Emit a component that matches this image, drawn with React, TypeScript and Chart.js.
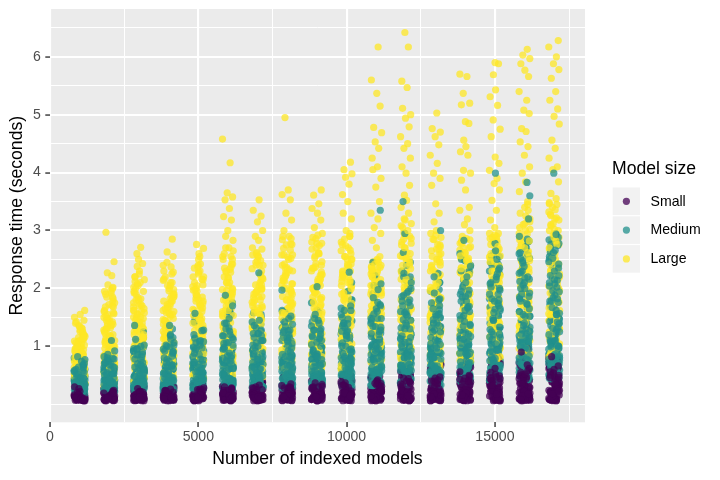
import { useEffect, useRef } from "react";
import { Chart, registerables } from "chart.js";

Chart.register(...registerables);

const SERIES = ["Small", "Medium", "Large"];
const COLORS = ["rgba(68,1,84,0.75)", "rgba(33,144,140,0.75)", "rgba(253,231,37,0.75)"];

const GROUP_X = [1000, 2000, 3000, 4000, 5000, 6000, 7000, 8000, 9000, 10000, 11000, 12000, 13000, 14000, 15000, 16000, 17000];

const X_TICKS = [0, 2500, 5000, 7500, 10000, 12500, 15000, 17500];
const X_LABELS = [0, 5000, 10000, 15000];
const Y_TICKS = [0, 0.5, 1, 1.5, 2, 2.5, 3, 3.5, 4, 4.5, 5, 5.5, 6, 6.5];
const Y_LABELS = [1, 2, 3, 4, 5, 6];

// horizontal jitter offsets (fraction of the jitter half-width)
const JITTER = [0.12, -0.85, 0.47, -0.31, 0.93, -0.66, 0.05, 0.71, -0.97, 0.38, -0.14, 0.82, -0.52, 0.26, -0.78, 0.61, -0.03, 0.89, -0.41, 0.17, -0.92, 0.54, -0.24, 0.76, -0.59, 0.33, -0.87, 0.09, 0.68, -0.46, 0.95, -0.19, 0.43, -0.73, 0.21, -0.6, 0.84, -0.08, 0.57, -0.95, 0.3, -0.36, 0.79, -0.69, 0.02, 0.64, -0.27];
const JITTER_WIDTH = 190;

const SMALL = [
  [0.07,0.12,0.09,0.18,0.06,0.14,0.22,0.1,0.16,0.08,0.27,0.13,0.11,0.19,0.07,0.24,0.15,0.09,0.2,0.12,0.3,0.17,0.1,0.13],
  [0.08,0.13,0.06,0.2,0.11,0.17,0.09,0.26,0.14,0.07,0.22,0.12,0.1,0.31,0.16,0.08,0.19,0.13,0.24,0.1,0.15,0.28,0.09,0.12],
  [0.07,0.15,0.1,0.23,0.08,0.18,0.12,0.3,0.09,0.2,0.14,0.06,0.27,0.11,0.17,0.34,0.13,0.08,0.21,0.16,0.1,0.25,0.12,0.19],
  [0.09,0.14,0.07,0.22,0.12,0.19,0.1,0.33,0.08,0.17,0.26,0.13,0.06,0.21,0.15,0.29,0.11,0.36,0.18,0.09,0.24,0.13,0.16,0.1],
  [0.08,0.16,0.11,0.25,0.07,0.2,0.13,0.35,0.09,0.18,0.28,0.12,0.22,0.06,0.15,0.31,0.1,0.39,0.19,0.14,0.26,0.09,0.12,0.17],
  [0.07,0.17,0.12,0.27,0.09,0.21,0.14,0.38,0.08,0.19,0.3,0.11,0.24,0.06,0.16,0.34,0.1,0.41,0.2,0.13,0.28,0.23,0.15,0.11],
  [0.08,0.18,0.11,0.29,0.07,0.22,0.15,0.4,0.1,0.2,0.33,0.13,0.25,0.06,0.17,0.36,0.09,0.43,0.21,0.14,0.3,0.26,0.12,0.16],
  [0.09,0.19,0.12,0.31,0.07,0.23,0.16,0.43,0.1,0.21,0.35,0.14,0.27,0.06,0.18,0.38,0.11,0.46,0.22,0.15,0.32,0.26,0.13,0.2,0.28],
  [0.08,0.2,0.13,0.33,0.07,0.24,0.16,0.44,0.1,0.22,0.37,0.14,0.28,0.06,0.18,0.4,0.11,0.47,0.23,0.15,0.3,0.27,0.12,0.19,0.34],
  [0.09,0.21,0.13,0.35,0.07,0.25,0.17,0.47,0.11,0.23,0.39,0.15,0.3,0.06,0.19,0.42,0.12,0.5,0.26,0.16,0.33,0.28,0.1,0.2,0.37],
  [0.08,0.22,0.14,0.38,0.07,0.27,0.18,0.52,0.1,0.24,0.42,0.15,0.32,0.06,0.2,0.46,0.12,0.47,0.28,0.17,0.36,0.3,0.11,0.21,0.4,0.25,0.13],
  [0.09,0.24,0.15,0.41,0.07,0.29,0.19,0.58,0.11,0.26,0.45,0.16,0.35,0.06,0.21,0.5,0.13,0.64,0.3,0.18,0.38,0.32,0.1,0.23,0.44,0.27,0.14,0.55],
  [0.08,0.25,0.16,0.43,0.07,0.3,0.2,0.6,0.11,0.27,0.47,0.17,0.36,0.06,0.22,0.52,0.13,0.68,0.31,0.19,0.4,0.34,0.1,0.24,0.45,0.28,0.15,0.57],
  [0.09,0.26,0.17,0.46,0.07,0.32,0.21,0.64,0.11,0.28,0.5,0.18,0.38,0.06,0.23,0.56,0.14,0.73,0.33,0.2,0.42,0.36,0.1,0.25,0.48,0.3,0.15,0.61,0.4],
  [0.08,0.28,0.18,0.5,0.07,0.35,0.23,0.7,0.12,0.3,0.55,0.19,0.41,0.06,0.25,0.62,0.14,0.85,0.36,0.21,0.46,0.39,0.1,0.27,0.52,0.32,0.16,0.67,0.44,0.77],
  [0.09,0.3,0.19,0.53,0.07,0.37,0.24,0.75,0.12,0.32,0.58,0.2,0.44,0.06,0.27,0.66,0.15,0.95,0.38,0.22,0.49,0.41,0.1,0.29,0.55,0.34,0.17,0.71,0.47,0.83,0.62],
  [0.08,0.29,0.19,0.51,0.07,0.36,0.24,0.72,0.12,0.31,0.56,0.2,0.43,0.06,0.26,0.64,0.15,0.8,0.37,0.22,0.48,0.4,0.1,0.28,0.54,0.33,0.17,0.69,0.46,0.76,0.6],
];

const SMALL_MORE = [
  [0.06,0.11,0.08,0.15,0.1,0.21,0.07,0.13,0.17,0.09,0.12,0.25,0.08,0.14,0.11,0.19],
  [0.07,0.1,0.14,0.09,0.18,0.06,0.12,0.23,0.11,0.16,0.08,0.27,0.13,0.1,0.2,0.15],
  [0.06,0.11,0.16,0.09,0.2,0.13,0.07,0.25,0.12,0.18,0.1,0.29,0.14,0.08,0.22,0.15],
  [0.07,0.12,0.17,0.1,0.21,0.08,0.14,0.27,0.11,0.19,0.09,0.31,0.15,0.13,0.23,0.16],
  [0.06,0.13,0.18,0.1,0.23,0.08,0.15,0.29,0.12,0.2,0.09,0.34,0.16,0.11,0.25,0.14],
  [0.07,0.13,0.19,0.1,0.24,0.09,0.16,0.31,0.12,0.21,0.08,0.36,0.17,0.11,0.27,0.14],
  [0.06,0.14,0.2,0.1,0.25,0.08,0.16,0.33,0.12,0.22,0.09,0.38,0.18,0.11,0.28,0.15],
  [0.07,0.14,0.21,0.1,0.27,0.09,0.17,0.35,0.12,0.24,0.08,0.41,0.19,0.11,0.3,0.16],
  [0.06,0.15,0.22,0.1,0.28,0.08,0.17,0.36,0.13,0.25,0.09,0.42,0.19,0.11,0.31,0.16],
  [0.07,0.15,0.23,0.11,0.29,0.09,0.18,0.38,0.13,0.26,0.08,0.45,0.2,0.12,0.33,0.17],
  [0.06,0.16,0.24,0.11,0.31,0.08,0.19,0.4,0.13,0.27,0.09,0.44,0.21,0.12,0.35,0.18,0.1,0.29],
  [0.07,0.17,0.26,0.11,0.34,0.09,0.2,0.44,0.14,0.3,0.08,0.52,0.23,0.12,0.39,0.19,0.1,0.33],
  [0.06,0.17,0.27,0.11,0.35,0.08,0.21,0.46,0.14,0.31,0.09,0.55,0.24,0.12,0.4,0.19,0.1,0.62],
  [0.07,0.18,0.29,0.12,0.38,0.09,0.22,0.5,0.15,0.33,0.08,0.6,0.26,0.13,0.43,0.2,0.1,0.66,0.35],
  [0.06,0.19,0.31,0.12,0.41,0.08,0.24,0.55,0.15,0.36,0.09,0.66,0.28,0.13,0.47,0.21,0.1,0.74,0.38,0.58],
  [0.07,0.2,0.33,0.12,0.44,0.09,0.25,0.6,0.16,0.39,0.08,0.72,0.3,0.13,0.51,0.22,0.1,0.8,0.41,0.65,0.9],
  [0.06,0.2,0.32,0.12,0.43,0.08,0.25,0.58,0.16,0.38,0.09,0.68,0.3,0.13,0.5,0.22,0.1,0.74,0.4,0.62,0.82],
];

const SMALL_EXTRA = [
  [0.08,0.1,0.13,0.07,0.16,0.09,0.11,0.2,0.06,0.14,0.12,0.18,0.08,0.23,0.1,0.15,0.07,0.12,0.09,0.17],
  [0.07,0.11,0.15,0.08,0.19,0.1,0.13,0.24,0.06,0.17,0.12,0.21,0.09,0.27,0.1,0.14,0.08,0.18,0.11,0.16],
  [0.08,0.12,0.17,0.07,0.22,0.1,0.14,0.28,0.06,0.19,0.13,0.24,0.09,0.31,0.11,0.16,0.08,0.2,0.12,0.15],
  [0.07,0.12,0.18,0.08,0.23,0.1,0.15,0.3,0.06,0.2,0.13,0.26,0.09,0.33,0.11,0.17,0.08,0.21,0.12,0.14],
  [0.08,0.13,0.19,0.07,0.25,0.1,0.16,0.32,0.06,0.21,0.14,0.28,0.09,0.36,0.11,0.18,0.08,0.23,0.12,0.15],
  [0.07,0.13,0.2,0.08,0.26,0.1,0.16,0.34,0.06,0.22,0.14,0.3,0.09,0.38,0.11,0.18,0.08,0.24,0.12,0.15],
  [0.08,0.14,0.21,0.07,0.27,0.1,0.17,0.36,0.06,0.23,0.15,0.31,0.09,0.4,0.11,0.19,0.08,0.25,0.13,0.16],
  [0.07,0.14,0.22,0.08,0.29,0.1,0.18,0.38,0.06,0.25,0.15,0.33,0.09,0.43,0.12,0.2,0.08,0.27,0.13,0.16],
  [0.08,0.15,0.23,0.07,0.3,0.1,0.18,0.39,0.06,0.26,0.16,0.34,0.09,0.44,0.12,0.2,0.08,0.28,0.13,0.17],
  [0.07,0.15,0.24,0.08,0.32,0.1,0.19,0.41,0.06,0.27,0.16,0.36,0.09,0.47,0.12,0.21,0.08,0.29,0.14,0.17],
  [0.08,0.16,0.25,0.07,0.33,0.1,0.2,0.43,0.06,0.28,0.17,0.38,0.09,0.48,0.12,0.22,0.08,0.3,0.14,0.18,0.36,0.26],
  [0.07,0.17,0.27,0.08,0.36,0.1,0.21,0.47,0.06,0.31,0.18,0.41,0.09,0.56,0.13,0.24,0.08,0.33,0.15,0.19,0.4,0.29],
  [0.08,0.17,0.28,0.07,0.37,0.1,0.22,0.49,0.06,0.32,0.18,0.43,0.09,0.58,0.13,0.25,0.08,0.34,0.15,0.2,0.42,0.3],
  [0.07,0.18,0.3,0.08,0.4,0.1,0.23,0.53,0.06,0.34,0.19,0.46,0.09,0.64,0.13,0.26,0.08,0.36,0.16,0.21,0.45,0.31,0.56],
  [0.08,0.2,0.33,0.07,0.44,0.1,0.25,0.58,0.06,0.37,0.21,0.5,0.09,0.7,0.14,0.28,0.08,0.4,0.17,0.23,0.49,0.34,0.62,0.78],
  [0.07,0.21,0.35,0.08,0.47,0.1,0.27,0.63,0.06,0.4,0.22,0.54,0.09,0.76,0.14,0.3,0.08,0.43,0.18,0.24,0.52,0.36,0.68,0.86],
  [0.08,0.21,0.34,0.07,0.46,0.1,0.26,0.61,0.06,0.39,0.22,0.53,0.09,0.72,0.14,0.29,0.08,0.42,0.18,0.24,0.5,0.35,0.66,0.8],
];

const MEDIUM = [
  [0.18,0.32,0.25,0.45,0.22,0.38,0.55,0.28,0.2,0.42,0.34,0.62,0.26,0.48,0.3,0.72,0.24,0.36,0.52,0.19,0.4,0.29,0.58,0.33,0.82,0.23,0.44,0.27,0.66,0.35,0.21,0.5,0.31,0.39,0.77,0.25,0.46,0.3,0.56,0.37],
  [0.2,0.36,0.28,0.52,0.24,0.44,0.65,0.31,0.22,0.48,0.39,0.72,0.27,0.57,0.34,0.82,0.25,0.41,0.6,0.21,0.46,0.33,0.68,0.38,0.86,0.26,0.5,0.3,0.76,0.42,0.23,0.55,0.35,0.63,1.1,0.29,0.53,0.37,0.7,0.45,0.79,0.32],
  [0.22,0.4,0.3,0.6,0.26,0.5,0.78,0.34,0.24,0.56,0.44,0.88,0.29,0.66,0.38,0.98,0.27,0.47,0.72,0.23,0.53,0.36,0.82,0.42,1.02,0.28,0.58,0.32,0.92,0.48,0.25,0.64,0.39,0.75,1.36,0.31,0.62,0.43,0.85,0.52,0.96,0.35,0.7,1.15],
  [0.23,0.42,0.31,0.64,0.27,0.52,0.83,0.35,0.25,0.58,0.46,0.94,0.3,0.7,0.4,1.05,0.28,0.49,0.77,0.24,0.55,0.37,0.88,0.44,1.12,0.29,0.61,0.33,0.99,0.5,0.26,0.67,0.41,0.8,1.36,0.32,0.65,0.45,0.91,0.54,1.2,0.36,0.74,1.3,1.02],
  [0.24,0.44,0.32,0.68,0.28,0.55,0.88,0.36,0.26,0.61,0.48,1.0,0.31,0.74,0.42,1.12,0.29,0.51,0.82,0.25,0.58,0.39,0.94,0.46,1.2,0.3,0.64,0.34,1.06,0.53,0.27,0.71,0.43,0.85,1.57,0.33,0.69,0.47,0.97,0.57,1.28,0.37,0.78,1.42,1.08,1.5],
  [0.25,0.47,0.34,0.72,0.29,0.58,0.95,0.38,0.27,0.65,0.51,1.08,0.32,0.8,0.44,1.22,0.3,0.54,0.88,0.26,0.62,0.41,1.02,0.49,1.32,0.31,0.69,0.36,1.15,0.56,0.28,0.76,0.45,0.92,1.88,0.35,0.74,0.5,1.05,0.6,1.4,0.39,0.84,1.55,1.18,1.62,1.3,1.75,0.98],
  [0.27,0.5,0.36,0.76,0.31,0.61,1.0,0.4,0.29,0.68,0.54,1.12,0.34,0.84,0.46,1.26,0.32,0.57,0.92,0.28,0.65,0.43,1.06,0.52,1.36,0.33,0.72,0.38,1.18,0.59,0.3,0.8,0.47,0.96,2.27,0.37,0.78,0.53,1.1,0.63,1.45,0.41,0.88,1.58,1.22,1.5,1.32,0.7,1.02],
  [0.28,0.52,0.37,0.8,0.32,0.64,1.05,0.42,0.3,0.71,0.56,1.17,0.35,0.88,0.48,1.32,0.33,0.6,0.97,0.29,0.68,0.45,1.1,0.54,1.42,0.34,0.75,0.4,1.24,0.62,0.31,0.84,0.49,1.0,1.97,0.38,0.82,0.55,1.15,0.66,1.52,0.43,0.92,1.6,1.28,1.58,1.38,0.73,1.08,1.48],
  [0.28,0.53,0.38,0.82,0.33,0.66,1.07,0.43,0.3,0.73,0.57,1.2,0.36,0.9,0.49,1.35,0.34,0.61,1.0,0.29,0.7,0.46,1.13,0.55,1.45,0.35,0.77,0.41,1.27,0.63,0.31,0.86,0.5,1.02,2.03,0.39,0.84,0.56,1.18,0.67,1.55,0.44,0.94,1.62,1.3,1.75,1.4,0.74,1.1,1.5],
  [0.31,0.57,0.41,0.88,0.35,0.71,1.15,0.46,0.33,0.78,0.61,1.28,0.38,0.96,0.52,1.44,0.36,0.65,1.06,0.32,0.75,0.49,1.2,0.59,1.55,0.37,0.82,0.44,1.36,0.68,0.34,0.92,0.54,1.1,2.28,0.42,0.9,0.6,1.25,0.72,1.66,0.47,1.0,1.8,1.4,1.95,1.5,0.8,1.18,2.1,1.62],
  [0.32,0.6,0.43,0.93,0.37,0.75,1.22,0.48,0.34,0.83,0.64,1.36,0.4,1.02,0.55,1.53,0.38,0.69,1.12,0.33,0.79,0.52,1.28,0.62,1.65,0.39,0.87,0.46,1.45,0.72,0.35,0.98,0.57,1.17,3.35,0.44,0.95,0.63,1.33,0.77,1.76,0.5,1.06,1.9,1.48,2.05,1.6,0.85,1.25,2.22,1.7,2.45,1.98],
  [0.33,0.63,0.45,0.98,0.38,0.79,1.3,0.5,0.35,0.87,0.67,1.45,0.42,1.08,0.58,1.62,0.4,0.72,1.18,0.34,0.83,0.55,1.36,0.65,1.76,0.41,0.92,0.48,1.55,0.76,0.36,1.04,0.6,1.24,3.5,0.46,1.0,0.66,1.4,0.81,1.88,0.52,1.12,2.02,1.58,2.2,1.7,0.9,1.32,2.4,1.8,2.62,2.1,2.95,1.95,2.3],
  [0.33,0.62,0.44,0.95,0.38,0.77,1.25,0.49,0.35,0.85,0.66,1.4,0.41,1.05,0.57,1.57,0.39,0.71,1.15,0.34,0.81,0.54,1.32,0.64,1.7,0.4,0.9,0.47,1.5,0.74,0.36,1.01,0.59,1.2,3.0,0.45,0.97,0.65,1.36,0.79,1.82,0.51,1.09,1.95,1.52,2.1,1.65,0.88,1.28,2.26,1.75,1.9],
  [0.36,0.67,0.48,1.03,0.41,0.83,1.35,0.53,0.38,0.92,0.71,1.52,0.45,1.13,0.62,1.7,0.43,0.77,1.24,0.37,0.88,0.59,1.43,0.69,1.85,0.44,0.97,0.51,1.62,0.8,0.39,1.09,0.64,1.3,2.83,0.49,1.05,0.7,1.47,0.85,1.97,0.55,1.17,2.12,1.66,2.3,1.78,0.95,1.38,2.48,1.9,2.6,2.2,2.05],
  [0.4,0.72,0.52,1.1,0.45,0.89,1.45,0.57,0.42,0.98,0.76,1.62,0.49,1.2,0.66,1.82,0.47,0.82,1.33,0.41,0.94,0.63,1.53,0.74,1.97,0.48,1.04,0.55,1.74,0.86,0.43,1.16,0.68,1.4,3.99,0.53,1.12,0.75,1.58,0.91,2.1,0.59,1.25,2.25,1.78,2.42,1.9,1.02,1.48,2.55,2.02,2.78,2.32,2.15,2.65,1.68],
  [0.42,0.75,0.54,1.15,0.47,0.93,1.52,0.6,0.44,1.03,0.8,1.7,0.51,1.26,0.69,1.9,0.49,0.86,1.4,0.43,0.98,0.66,1.6,0.77,2.06,0.5,1.09,0.58,1.82,0.9,0.45,1.22,0.71,1.46,3.83,0.56,1.18,0.79,1.65,0.95,2.2,0.62,1.3,2.36,1.86,2.52,2.0,1.07,1.55,2.68,2.12,2.85,2.44,3.6,2.28,1.76,3.2,2.6],
  [0.43,0.76,0.55,1.17,0.48,0.95,1.55,0.61,0.45,1.05,0.81,1.72,0.52,1.28,0.7,1.92,0.5,0.87,1.42,0.44,1.0,0.67,1.62,0.78,2.08,0.51,1.1,0.59,1.84,0.92,0.46,1.24,0.72,1.48,3.99,0.57,1.2,0.8,1.67,0.97,2.22,0.63,1.32,2.38,1.88,2.55,2.02,1.08,1.57,2.7,2.15,2.88,2.46,2.3,2.62,2.78,1.78,2.94],
];

const MEDIUM_MORE = [
  [0.19,0.27,0.35,0.23,0.43,0.3,0.52,0.21,0.38,0.25,0.47,0.33,0.6,0.22,0.29,0.41,0.36,0.54,0.24,0.31,0.45,0.2,0.68,0.34,0.28,0.5,0.26,0.39,0.57,0.32,0.44,0.23,0.74,0.37,0.3,0.49,0.27,0.42,0.64,0.35],
  [0.2,0.3,0.41,0.25,0.52,0.35,0.63,0.22,0.45,0.28,0.57,0.38,0.74,0.24,0.33,0.49,0.42,0.66,0.27,0.36,0.54,0.21,0.82,0.4,0.31,0.6,0.29,0.47,0.7,0.37,0.53,0.26,0.92,0.44,0.34,0.59,0.3,0.5,0.78,0.43],
  [0.22,0.34,0.48,0.28,0.62,0.4,0.76,0.24,0.53,0.31,0.68,0.44,0.9,0.26,0.37,0.58,0.5,0.8,0.3,0.42,0.65,0.23,1.0,0.47,0.35,0.72,0.32,0.55,0.86,0.43,0.64,0.29,1.12,0.52,0.39,0.7,0.33,0.6,0.95,1.25],
  [0.23,0.35,0.5,0.29,0.65,0.42,0.8,0.25,0.56,0.32,0.71,0.46,0.95,0.27,0.38,0.61,0.52,0.85,0.31,0.44,0.68,0.24,1.06,0.49,0.36,0.76,0.33,0.58,0.9,0.45,0.67,0.3,1.18,0.54,0.4,0.74,0.34,0.63,1.0,1.32],
  [0.24,0.37,0.53,0.3,0.69,0.44,0.86,0.26,0.6,0.34,0.76,0.49,1.02,0.28,0.4,0.65,0.56,0.92,0.32,0.46,0.73,0.25,1.14,0.52,0.38,0.82,0.35,0.62,0.97,0.48,0.72,0.31,1.27,0.58,0.42,0.8,0.36,0.67,1.08,1.42],
  [0.25,0.4,0.58,0.32,0.76,0.48,0.95,0.28,0.66,0.36,0.84,0.53,1.12,0.3,0.43,0.71,0.61,1.02,0.34,0.5,0.8,0.27,1.26,0.57,0.41,0.9,0.38,0.68,1.07,0.52,0.79,0.33,1.4,0.63,0.46,0.88,0.39,0.74,1.2,1.55,1.7,1.33],
  [0.27,0.42,0.6,0.34,0.78,0.5,0.98,0.3,0.68,0.38,0.87,0.55,1.15,0.32,0.45,0.73,0.63,1.05,0.36,0.52,0.82,0.29,1.28,0.59,0.43,0.93,0.4,0.7,1.1,0.54,0.81,0.35,1.42,0.65,0.48,0.9,0.41,0.76,1.22,1.55],
  [0.28,0.44,0.63,0.35,0.82,0.52,1.02,0.31,0.71,0.4,0.9,0.57,1.2,0.33,0.47,0.76,0.66,1.1,0.37,0.54,0.86,0.3,1.34,0.61,0.45,0.97,0.42,0.73,1.15,0.56,0.85,0.36,1.48,0.68,0.5,0.94,0.43,0.79,1.27,1.62],
  [0.29,0.45,0.64,0.36,0.83,0.53,1.03,0.32,0.72,0.41,0.92,0.58,1.21,0.34,0.48,0.77,0.67,1.11,0.38,0.55,0.87,0.3,1.35,0.62,0.46,0.98,0.43,0.74,1.16,0.57,0.86,0.37,1.48,0.69,0.51,0.95,0.44,0.8,1.28,1.58],
  [0.31,0.49,0.7,0.39,0.91,0.58,1.13,0.34,0.79,0.44,1.0,0.63,1.32,0.37,0.52,0.84,0.73,1.21,0.41,0.6,0.95,0.33,1.47,0.68,0.5,1.07,0.47,0.81,1.27,0.62,0.94,0.4,1.62,0.75,0.55,1.04,0.48,0.88,1.4,1.8],
  [0.32,0.51,0.74,0.41,0.96,0.61,1.2,0.36,0.83,0.46,1.06,0.67,1.4,0.39,0.55,0.89,0.77,1.28,0.43,0.63,1.0,0.35,1.56,0.72,0.52,1.13,0.49,0.86,1.34,0.65,0.99,0.42,1.72,0.79,0.58,1.1,0.5,0.93,1.48,1.9,2.08,1.64],
  [0.34,0.55,0.8,0.44,1.04,0.66,1.3,0.38,0.9,0.5,1.15,0.72,1.52,0.41,0.59,0.96,0.83,1.39,0.46,0.68,1.08,0.37,1.7,0.78,0.56,1.22,0.53,0.93,1.46,0.7,1.07,0.45,1.86,0.85,0.62,1.19,0.54,1.0,1.6,2.05,2.26,2.45,1.78,2.15],
  [0.33,0.53,0.77,0.43,1.0,0.64,1.25,0.37,0.87,0.48,1.11,0.7,1.46,0.4,0.57,0.93,0.8,1.34,0.45,0.66,1.04,0.36,1.63,0.75,0.54,1.18,0.51,0.9,1.4,0.68,1.03,0.44,1.8,0.82,0.6,1.15,0.52,0.97,1.55,1.98,2.2,1.72],
  [0.37,0.58,0.84,0.46,1.09,0.69,1.36,0.4,0.95,0.52,1.21,0.76,1.6,0.43,0.62,1.01,0.87,1.46,0.48,0.72,1.13,0.39,1.78,0.82,0.59,1.28,0.56,0.98,1.53,0.74,1.12,0.47,1.95,0.89,0.65,1.25,0.57,1.05,1.68,2.15,2.38,2.5,1.86,2.25],
  [0.41,0.63,0.9,0.5,1.16,0.74,1.45,0.44,1.02,0.56,1.29,0.81,1.7,0.47,0.67,1.08,0.93,1.56,0.52,0.77,1.21,0.43,1.9,0.88,0.64,1.37,0.6,1.05,1.64,0.79,1.2,0.51,2.08,0.95,0.7,1.33,0.62,1.12,1.8,2.3,2.5,2.62,2.0,2.4,2.2],
  [0.43,0.66,0.95,0.53,1.22,0.78,1.52,0.46,1.07,0.59,1.36,0.85,1.78,0.5,0.7,1.14,0.98,1.64,0.55,0.81,1.28,0.45,2.0,0.92,0.67,1.44,0.63,1.1,1.72,0.83,1.26,0.54,2.18,1.0,0.73,1.4,0.65,1.18,1.9,2.4,2.62,2.8,2.1,2.52,2.3,2.72,2.9],
  [0.45,0.68,0.97,0.55,1.25,0.8,1.55,0.48,1.1,0.61,1.39,0.87,1.82,0.51,0.72,1.17,1.0,1.68,0.57,0.83,1.31,0.46,2.04,0.94,0.69,1.47,0.65,1.13,1.76,0.85,1.29,0.56,2.22,1.02,0.75,1.43,0.67,1.2,1.94,2.45,2.66,2.84,2.14,2.56,2.35,2.76,2.93,2.5],
];

const MEDIUM_EXTRA = [
  [0.21,0.26,0.33,0.4,0.24,0.48,0.3,0.56,0.22,0.36,0.28,0.44,0.63,0.25,0.34,0.51,0.2,0.39,0.31,0.46,0.7,0.27,0.37,0.58,0.23,0.42,0.29,0.53,0.32,0.66,0.26,0.41,0.35,0.49,0.24,0.6,0.38,0.3,0.45,0.8],
  [0.22,0.29,0.37,0.46,0.26,0.55,0.33,0.64,0.24,0.41,0.31,0.5,0.72,0.27,0.38,0.58,0.21,0.44,0.35,0.53,0.8,0.3,0.42,0.67,0.25,0.48,0.32,0.61,0.36,0.76,0.28,0.47,0.39,0.56,0.26,0.69,0.43,0.34,0.52,0.95],
  [0.24,0.32,0.42,0.53,0.28,0.64,0.37,0.76,0.26,0.47,0.35,0.58,0.86,0.3,0.43,0.68,0.23,0.51,0.4,0.62,0.96,0.33,0.48,0.8,0.27,0.56,0.36,0.72,0.41,0.92,0.31,0.55,0.45,0.66,0.29,0.84,0.5,0.38,0.6,1.08],
  [0.25,0.33,0.44,0.56,0.29,0.68,0.39,0.81,0.27,0.5,0.37,0.62,0.92,0.31,0.45,0.72,0.24,0.54,0.42,0.66,1.02,0.34,0.51,0.85,0.28,0.59,0.38,0.77,0.43,0.98,0.32,0.58,0.47,0.7,0.3,0.89,0.53,0.4,0.64,1.15],
  [0.26,0.35,0.47,0.6,0.3,0.73,0.41,0.87,0.28,0.53,0.39,0.66,0.98,0.32,0.48,0.77,0.25,0.58,0.44,0.71,1.1,0.36,0.55,0.91,0.29,0.63,0.4,0.83,0.46,1.05,0.33,0.62,0.5,0.75,0.31,0.95,0.57,0.42,0.69,1.25],
  [0.27,0.37,0.5,0.65,0.31,0.79,0.43,0.94,0.29,0.57,0.41,0.71,1.06,0.34,0.51,0.83,0.26,0.62,0.47,0.77,1.18,0.38,0.59,0.98,0.3,0.68,0.42,0.9,0.49,1.13,0.35,0.66,0.53,0.81,0.32,1.03,0.61,0.45,0.74,1.35,1.48,1.25],
  [0.28,0.39,0.52,0.67,0.32,0.82,0.45,0.97,0.3,0.59,0.42,0.74,1.1,0.35,0.53,0.86,0.27,0.64,0.49,0.8,1.22,0.4,0.61,1.02,0.31,0.7,0.44,0.93,0.5,1.16,0.36,0.69,0.55,0.84,0.33,1.06,0.63,0.47,0.77,1.38],
  [0.29,0.4,0.54,0.7,0.33,0.86,0.47,1.01,0.31,0.62,0.44,0.77,1.15,0.36,0.55,0.9,0.28,0.67,0.51,0.83,1.27,0.41,0.64,1.06,0.32,0.73,0.46,0.97,0.52,1.21,0.37,0.72,0.57,0.88,0.34,1.1,0.66,0.49,0.8,1.44],
  [0.3,0.41,0.55,0.71,0.34,0.87,0.48,1.02,0.32,0.63,0.45,0.78,1.16,0.37,0.56,0.91,0.29,0.68,0.52,0.84,1.28,0.42,0.65,1.07,0.33,0.74,0.47,0.98,0.53,1.22,0.38,0.73,0.58,0.89,0.35,1.11,0.67,0.5,0.81,1.42],
  [0.32,0.44,0.6,0.77,0.36,0.94,0.52,1.1,0.34,0.68,0.49,0.85,1.26,0.4,0.61,0.99,0.31,0.74,0.56,0.91,1.39,0.45,0.7,1.16,0.35,0.8,0.51,1.06,0.57,1.33,0.41,0.79,0.63,0.97,0.37,1.2,0.72,0.54,0.88,1.56,1.7],
  [0.33,0.46,0.63,0.81,0.37,0.99,0.54,1.17,0.35,0.72,0.51,0.9,1.34,0.41,0.64,1.05,0.32,0.78,0.59,0.96,1.48,0.47,0.74,1.23,0.36,0.85,0.53,1.12,0.6,1.42,0.43,0.84,0.66,1.03,0.39,1.28,0.76,0.56,0.93,1.66,1.84,1.58],
  [0.35,0.49,0.68,0.88,0.4,1.07,0.58,1.27,0.37,0.78,0.55,0.97,1.45,0.44,0.69,1.14,0.34,0.84,0.63,1.04,1.6,0.5,0.8,1.33,0.39,0.92,0.57,1.21,0.65,1.54,0.46,0.9,0.71,1.11,0.42,1.38,0.82,0.6,1.0,1.8,2.0,2.2,1.92],
  [0.34,0.48,0.66,0.85,0.39,1.04,0.56,1.23,0.36,0.76,0.53,0.94,1.4,0.43,0.67,1.1,0.33,0.82,0.61,1.0,1.55,0.49,0.78,1.29,0.38,0.89,0.55,1.17,0.63,1.49,0.45,0.88,0.69,1.08,0.41,1.34,0.8,0.58,0.97,1.74,1.92,2.1],
  [0.38,0.52,0.72,0.93,0.42,1.13,0.61,1.34,0.4,0.83,0.58,1.03,1.53,0.47,0.73,1.2,0.37,0.89,0.67,1.1,1.69,0.53,0.85,1.41,0.41,0.98,0.6,1.28,0.69,1.63,0.49,0.96,0.75,1.18,0.44,1.46,0.87,0.64,1.06,1.9,2.1,2.3,2.02,2.4],
  [0.42,0.57,0.78,1.0,0.46,1.22,0.66,1.45,0.44,0.9,0.63,1.12,1.65,0.51,0.79,1.3,0.41,0.97,0.72,1.19,1.82,0.58,0.92,1.52,0.45,1.06,0.65,1.38,0.75,1.76,0.53,1.04,0.81,1.27,0.48,1.58,0.94,0.69,1.15,2.05,2.25,2.45,2.15,2.56,2.35],
  [0.44,0.6,0.82,1.06,0.48,1.28,0.69,1.52,0.46,0.94,0.66,1.18,1.74,0.53,0.83,1.37,0.43,1.02,0.76,1.25,1.92,0.61,0.97,1.6,0.47,1.11,0.68,1.45,0.78,1.85,0.56,1.09,0.85,1.33,0.5,1.66,0.99,0.72,1.21,2.16,2.38,2.58,2.26,2.7,2.48,2.82],
  [0.46,0.62,0.84,1.08,0.5,1.31,0.71,1.55,0.48,0.96,0.68,1.2,1.78,0.55,0.85,1.4,0.45,1.04,0.78,1.28,1.96,0.63,0.99,1.63,0.49,1.13,0.7,1.48,0.8,1.89,0.58,1.11,0.87,1.36,0.52,1.7,1.01,0.74,1.24,2.2,2.42,2.62,2.3,2.74,2.52,2.86,2.1],
];

const LARGE = [
  [0.28,0.45,0.62,0.38,0.85,0.52,1.05,0.33,0.72,0.95,0.48,1.18,0.58,0.41,0.8,1.3,0.66,0.36,0.9,0.55,1.12,0.44,0.75,1.36,0.6,0.3,0.98,0.5,1.22,0.7,1.62,0.4,0.88,1.5,0.64,1.08,0.54,1.42,0.78,0.46,1.55,0.68,1.0,0.35,1.15],
  [0.32,0.55,0.78,0.45,1.1,0.65,1.38,0.4,0.92,1.25,0.6,1.55,0.72,0.5,1.02,1.68,0.84,0.43,1.18,0.68,1.45,0.57,0.96,1.78,0.76,0.36,1.3,0.62,1.6,0.88,2.06,0.48,1.14,1.92,0.8,1.42,0.66,1.85,1.0,0.54,2.22,0.86,1.32,2.97,2.46,1.72,2.0,1.5,1.96,2.27],
  [0.36,0.6,0.88,0.5,1.25,0.72,1.55,0.45,1.04,1.42,0.66,1.75,0.8,0.56,1.15,1.9,0.95,0.48,1.33,0.76,1.65,0.63,1.08,2.02,0.85,0.4,1.48,0.7,1.82,1.0,2.3,0.53,1.28,2.15,0.9,1.6,0.74,2.1,1.12,0.6,2.5,0.98,1.5,2.71,2.6,1.95,2.2,1.7,2.43,2.08,1.38],
  [0.4,0.64,0.92,0.54,1.3,0.76,1.62,0.48,1.08,1.48,0.7,1.82,0.84,0.6,1.2,1.98,1.0,0.52,1.38,0.8,1.72,0.66,1.12,2.1,0.9,0.44,1.55,0.74,1.9,1.05,2.37,0.57,1.34,2.2,0.94,1.66,0.78,2.14,1.16,0.63,2.55,1.02,1.58,2.85,2.63,2.0,2.3,1.78,2.45,1.86,1.44],
  [0.42,0.68,0.98,0.56,1.36,0.8,1.7,0.5,1.14,1.55,0.74,1.9,0.88,0.62,1.26,2.05,1.05,0.54,1.45,0.84,1.8,0.7,1.18,2.2,0.95,0.46,1.62,0.78,1.98,1.1,2.37,0.6,1.4,2.3,0.99,1.74,0.82,2.25,1.22,0.66,2.6,1.08,1.66,2.76,2.69,2.1,2.5,1.85,2.03,2.42,1.5],
  [0.45,0.72,1.04,0.6,1.44,0.85,1.8,0.53,1.2,1.64,0.78,2.0,0.93,0.66,1.33,2.18,1.1,0.57,1.53,0.89,1.9,0.74,1.25,2.35,1.0,0.49,1.7,0.82,2.1,1.16,2.5,0.63,1.48,2.42,1.05,1.84,0.87,2.28,1.29,0.7,2.6,1.14,1.75,4.58,4.17,3.65,3.58,3.53,3.38,3.24,3.18,3.0,2.83,2.9,2.7,2.55,2.37,1.96],
  [0.47,0.75,1.08,0.62,1.5,0.88,1.86,0.55,1.24,1.7,0.8,2.06,0.96,0.68,1.38,2.24,1.14,0.59,1.58,0.92,1.96,0.77,1.3,2.4,1.03,0.5,1.76,0.85,2.15,1.2,2.55,0.65,1.53,2.45,1.1,1.9,0.9,2.3,1.34,0.72,2.62,1.18,1.8,3.53,3.35,3.25,3.15,3.0,2.9,2.83,2.7,2.48,2.6,2.0,1.64],
  [0.5,0.8,1.15,0.66,1.58,0.94,1.96,0.58,1.3,1.8,0.86,2.18,1.02,0.72,1.46,2.36,1.2,0.63,1.66,0.98,2.08,0.82,1.38,2.52,1.1,0.54,1.86,0.9,2.26,1.26,2.69,0.7,1.62,2.58,1.16,2.0,0.96,2.42,1.42,0.76,2.77,1.24,1.9,4.95,3.7,3.62,3.53,3.3,3.18,3.0,2.9,2.84,2.54,1.74,2.12,2.3],
  [0.52,0.82,1.18,0.68,1.62,0.96,2.0,0.6,1.34,1.84,0.88,2.22,1.04,0.74,1.5,2.4,1.22,0.64,1.7,1.0,2.12,0.84,1.42,2.56,1.12,0.55,1.9,0.92,2.3,1.28,2.7,0.72,1.66,2.62,1.18,2.05,0.98,2.46,1.46,0.78,2.8,1.26,1.94,3.7,3.61,3.46,3.38,3.3,3.18,3.05,2.95,2.86,2.74,1.78,2.16,2.35],
  [0.54,0.86,1.24,0.7,1.7,1.0,2.1,0.62,1.4,1.94,0.92,2.3,1.08,0.77,1.56,2.5,1.28,0.66,1.78,1.04,2.22,0.88,1.48,2.65,1.16,0.57,2.0,0.96,2.4,1.34,2.14,0.74,1.74,1.86,1.22,2.05,1.02,2.55,1.52,0.8,2.2,1.3,1.62,4.18,4.05,3.98,3.92,3.8,3.62,3.5,3.3,3.2,3.0,2.9,2.8,2.7,2.55,2.42],
  [0.6,0.94,1.34,0.78,1.82,1.1,2.2,0.68,1.5,2.05,1.0,2.36,1.18,0.84,1.66,2.28,1.38,0.72,1.9,1.14,2.12,0.96,1.6,2.32,1.26,0.64,2.0,1.04,1.75,1.44,2.25,0.8,1.86,1.95,1.3,6.17,5.6,5.37,5.15,4.78,4.69,4.53,4.42,4.25,4.1,4.05,3.9,3.75,3.5,3.3,3.2,3.05,2.95,2.83,2.7,2.55,2.42,2.48],
  [0.62,0.98,1.4,0.8,1.9,1.14,2.3,0.7,1.56,2.15,1.04,2.5,1.22,0.86,1.74,2.7,1.44,0.74,1.98,1.18,2.4,1.0,1.66,2.85,1.3,0.66,2.1,1.08,2.6,1.5,3.0,0.82,1.94,2.9,1.36,3.12,6.42,6.17,5.58,5.47,5.11,5.0,4.94,4.79,4.62,4.5,4.42,4.25,4.1,3.99,3.78,3.61,3.52,3.4,3.3,3.2,2.78,2.55],
  [0.6,0.95,1.36,0.78,1.84,1.1,2.22,0.68,1.52,2.08,1.0,2.4,1.18,0.84,1.68,2.58,1.4,0.72,1.92,1.14,2.3,0.96,1.62,2.75,1.26,0.64,2.02,1.04,2.5,1.46,2.88,0.8,1.88,2.65,5.03,4.76,4.7,4.62,4.48,4.3,4.16,3.99,3.9,3.78,3.46,3.3,3.15,3.0,2.95,2.2,1.76,1.3],
  [0.7,1.06,1.48,0.88,2.0,1.22,2.4,0.78,1.66,2.26,1.12,2.6,1.3,0.94,1.84,2.78,1.54,0.82,2.1,1.26,2.5,1.08,1.76,2.7,1.4,0.74,2.18,1.16,2.34,1.6,2.83,0.9,2.04,2.46,5.7,5.66,5.37,5.2,5.17,4.88,4.85,4.56,4.45,4.36,4.3,4.04,3.99,3.87,3.7,3.4,3.35,3.2,3.1,3.0,2.9,1.94,1.36],
  [0.72,1.1,1.54,0.9,2.06,1.26,2.46,0.8,1.72,2.32,1.16,2.66,1.34,0.96,1.9,2.84,1.58,0.84,2.16,1.3,2.56,1.12,1.82,2.76,1.44,0.76,2.24,1.2,2.4,1.66,2.9,0.92,2.1,2.52,5.9,5.88,5.69,5.43,5.31,5.16,4.91,4.75,4.62,4.27,4.16,4.04,3.9,3.81,3.7,3.52,3.35,3.18,2.95,3.05,2.0,1.4],
  [0.8,1.2,1.66,1.0,2.2,1.36,2.62,0.88,1.84,2.48,1.26,2.84,1.46,1.06,2.04,3.02,1.7,0.92,2.3,1.4,2.74,1.22,1.96,3.2,1.56,0.84,2.4,1.3,2.9,1.78,3.35,1.02,2.26,2.68,6.13,6.03,5.97,5.88,5.77,5.66,5.4,5.25,5.08,5.02,4.76,4.71,4.53,4.45,4.3,4.1,3.99,3.84,3.67,3.5,3.1,2.1,1.5],
  [0.82,1.22,1.7,1.02,2.26,1.4,2.7,0.9,1.9,2.55,1.3,2.92,1.5,1.08,2.1,3.1,1.76,0.94,2.36,1.44,2.82,1.26,2.0,3.28,1.6,0.86,2.46,1.34,3.0,1.82,3.4,1.04,2.3,2.76,6.28,6.17,6.0,5.88,5.78,5.63,5.4,5.25,5.1,4.97,4.84,4.56,4.42,4.25,4.1,4.05,3.84,3.64,3.55,3.46,3.2,2.16,1.56],
];

const LARGE_MORE = [
  [0.31,0.5,0.68,0.42,0.9,0.58,1.1,0.37,0.78,0.98,0.53,1.25,0.64,0.45,0.84,1.32,0.72,0.39,0.94,0.6,1.17,0.48,0.8,1.4,0.66,0.34,1.02,0.56,1.2,0.76,0.43,0.92,0.62,1.06,0.52,0.86,0.7,1.28,0.47,1.12],
  [0.36,0.6,0.84,0.48,1.15,0.72,1.42,0.42,0.98,1.3,0.66,1.62,0.8,0.54,1.08,1.75,0.9,0.46,1.22,0.74,1.52,0.58,1.02,1.85,0.82,0.4,1.35,0.64,1.68,0.94,2.02,0.52,1.18,1.95,0.86,1.48,0.7,1.9,1.05,1.58],
  [0.4,0.66,0.96,0.55,1.32,0.8,1.62,0.48,1.12,1.5,0.72,1.84,0.9,0.6,1.22,2.0,1.02,0.52,1.4,0.84,1.72,0.68,1.16,2.12,0.94,0.44,1.56,0.76,1.92,1.06,2.38,0.58,1.36,2.25,0.98,1.68,0.82,2.05,1.2,1.8],
  [0.43,0.7,1.0,0.58,1.36,0.84,1.68,0.5,1.16,1.55,0.76,1.9,0.94,0.64,1.26,2.05,1.06,0.55,1.45,0.88,1.78,0.72,1.2,2.16,0.98,0.47,1.6,0.8,1.96,1.1,2.4,0.61,1.4,2.28,1.02,1.74,0.86,2.1,1.24,1.85],
  [0.45,0.74,1.06,0.62,1.44,0.88,1.78,0.53,1.22,1.64,0.8,2.0,0.98,0.67,1.33,2.16,1.12,0.58,1.53,0.92,1.88,0.76,1.27,2.28,1.04,0.5,1.7,0.84,2.06,1.16,2.55,0.64,1.48,2.4,1.08,1.83,0.9,2.2,1.3,1.95],
  [0.48,0.78,1.12,0.65,1.52,0.93,1.88,0.56,1.3,1.74,0.84,2.1,1.04,0.71,1.41,2.28,1.18,0.61,1.62,0.97,1.98,0.8,1.34,2.42,1.1,0.53,1.8,0.89,2.18,1.23,2.7,0.68,1.57,2.55,1.14,1.93,0.95,2.33,1.38,2.05],
  [0.5,0.81,1.16,0.68,1.58,0.96,1.94,0.58,1.34,1.8,0.87,2.16,1.07,0.74,1.46,2.34,1.22,0.63,1.67,1.0,2.04,0.83,1.38,2.48,1.13,0.55,1.86,0.92,2.24,1.27,2.68,0.7,1.62,2.58,1.18,1.99,0.98,2.4,1.42,2.1],
  [0.55,0.87,1.25,0.73,1.7,1.03,2.08,0.63,1.44,1.93,0.94,2.32,1.15,0.79,1.57,2.5,1.31,0.68,1.8,1.08,2.2,0.89,1.49,2.66,1.22,0.6,2.0,0.99,2.4,1.36,2.86,0.76,1.74,2.75,1.27,2.14,1.05,2.58,1.52,2.26],
  [0.56,0.88,1.27,0.74,1.72,1.05,2.1,0.64,1.46,1.96,0.95,2.35,1.17,0.8,1.59,2.53,1.33,0.69,1.82,1.1,2.23,0.9,1.51,2.68,1.24,0.61,2.02,1.0,2.43,1.38,2.88,0.77,1.76,2.78,1.29,2.16,1.07,2.6,1.54,2.28],
  [0.6,0.93,1.33,0.78,1.8,1.1,2.18,0.68,1.53,2.04,1.0,2.42,1.23,0.85,1.67,2.6,1.4,0.73,1.9,1.15,2.3,0.95,1.58,2.74,1.3,0.65,2.1,1.05,2.5,1.45,2.95,0.82,1.84,2.85,1.36,2.24,1.12,2.66,1.62,2.36],
  [0.65,0.98,1.4,0.82,1.88,1.15,2.28,0.72,1.6,2.12,1.05,2.46,1.28,0.88,1.72,2.36,1.45,0.77,1.95,1.2,2.2,1.0,1.65,2.4,1.34,0.7,2.05,1.1,1.8,1.52,2.32,0.85,1.92,2.15,1.38,1.7,1.25,2.0,1.56,1.85],
  [0.66,1.02,1.46,0.85,1.98,1.2,2.4,0.75,1.66,2.24,1.1,2.62,1.33,0.92,1.82,2.8,1.52,0.8,2.08,1.25,2.5,1.04,1.74,2.96,1.4,0.72,2.16,1.15,2.7,1.58,3.08,0.88,2.02,2.86,1.44,2.3,1.18,2.56,1.62,3.18],
  [0.65,1.0,1.42,0.84,1.92,1.17,2.32,0.74,1.62,2.16,1.07,2.5,1.3,0.9,1.76,2.68,1.48,0.78,2.0,1.22,2.4,1.02,1.7,2.84,1.36,0.7,2.1,1.12,2.6,1.54,2.92,0.87,1.96,2.76,1.4,2.24,1.15,2.46,1.58,1.85],
  [0.72,1.1,1.54,0.92,2.06,1.27,2.48,0.82,1.74,2.32,1.16,2.66,1.4,0.98,1.9,2.8,1.6,0.86,2.16,1.32,2.56,1.12,1.8,2.72,1.48,0.78,2.24,1.2,2.4,1.66,2.84,0.95,2.1,2.52,1.44,2.0,1.24,2.62,1.7,2.28],
  [0.75,1.14,1.6,0.95,2.12,1.32,2.54,0.85,1.8,2.38,1.2,2.72,1.44,1.0,1.96,2.86,1.66,0.88,2.22,1.36,2.62,1.16,1.86,2.8,1.5,0.8,2.3,1.25,2.46,1.72,2.92,0.98,2.16,2.58,1.48,2.06,1.28,2.68,1.76,2.34],
  [0.82,1.24,1.72,1.04,2.28,1.42,2.7,0.92,1.92,2.56,1.32,2.94,1.54,1.1,2.12,3.12,1.78,0.96,2.38,1.46,2.82,1.28,2.04,3.3,1.62,0.88,2.48,1.36,3.0,1.86,3.45,1.06,2.34,2.76,1.58,2.2,1.4,2.64,1.98,3.2],
  [0.85,1.26,1.76,1.06,2.32,1.45,2.76,0.94,1.96,2.62,1.35,3.0,1.56,1.12,2.16,3.18,1.82,0.98,2.42,1.5,2.88,1.3,2.08,3.36,1.66,0.9,2.52,1.4,3.08,1.9,3.48,1.08,2.38,2.82,1.62,2.24,1.44,2.7,2.02,3.26],
];

const LARGE_EXTRA = [
  [0.34,0.47,0.6,0.74,0.4,0.86,0.52,0.99,0.37,0.66,0.45,0.8,1.14,0.55,0.69,0.92,0.33,1.04,0.5,0.77,1.26,0.43,0.63,0.88,0.58,1.19,0.39,0.71,0.96,0.49,1.34,0.61,0.83,0.44,1.09,0.57,0.73,1.45,0.65,0.9],
  [0.38,0.54,0.7,0.88,0.46,1.03,0.62,1.2,0.42,0.8,0.52,0.97,1.4,0.66,0.84,1.12,0.39,1.28,0.59,0.93,1.56,0.5,0.76,1.07,0.69,1.48,0.44,0.86,1.18,0.57,1.7,0.73,1.0,0.51,1.36,0.68,0.9,1.82,0.78,1.1],
  [0.42,0.6,0.8,1.02,0.52,1.2,0.7,1.4,0.47,0.92,0.6,1.12,1.62,0.76,0.98,1.3,0.44,1.5,0.67,1.08,1.8,0.56,0.87,1.25,0.79,1.7,0.5,1.0,1.36,0.65,1.95,0.84,1.16,0.58,1.58,0.78,1.05,2.2,0.9,1.45],
  [0.45,0.63,0.84,1.07,0.55,1.26,0.74,1.46,0.5,0.97,0.64,1.18,1.7,0.8,1.03,1.36,0.47,1.58,0.7,1.13,1.88,0.59,0.92,1.31,0.83,1.78,0.53,1.05,1.42,0.68,2.05,0.88,1.22,0.61,1.65,0.82,1.1,2.25,0.95,1.52],
  [0.47,0.66,0.88,1.12,0.58,1.32,0.77,1.53,0.52,1.02,0.67,1.24,1.78,0.84,1.08,1.43,0.49,1.66,0.74,1.18,1.97,0.62,0.96,1.37,0.87,1.86,0.56,1.1,1.49,0.71,2.15,0.92,1.28,0.64,1.73,0.86,1.15,2.35,1.0,1.6],
  [0.5,0.7,0.94,1.2,0.62,1.41,0.82,1.63,0.55,1.09,0.72,1.33,1.9,0.9,1.16,1.53,0.52,1.77,0.79,1.26,2.1,0.66,1.02,1.47,0.93,1.98,0.59,1.18,1.6,0.76,2.3,0.98,1.37,0.68,1.85,0.92,1.23,2.5,1.07,1.7,2.65,2.2],
  [0.52,0.73,0.98,1.25,0.64,1.47,0.86,1.7,0.57,1.13,0.75,1.38,1.98,0.94,1.2,1.59,0.54,1.84,0.82,1.31,2.18,0.69,1.06,1.53,0.97,2.06,0.61,1.23,1.66,0.79,2.4,1.02,1.42,0.71,1.92,0.96,1.28,2.56,1.11,1.76],
  [0.57,0.79,1.06,1.35,0.69,1.58,0.93,1.83,0.62,1.22,0.81,1.49,2.13,1.01,1.3,1.71,0.59,1.98,0.88,1.41,2.35,0.74,1.15,1.65,1.05,2.22,0.66,1.33,1.79,0.85,2.58,1.1,1.53,0.77,2.06,1.04,1.38,2.76,1.2,1.9,2.9],
  [0.58,0.8,1.08,1.37,0.7,1.6,0.94,1.85,0.63,1.24,0.82,1.51,2.15,1.02,1.32,1.73,0.6,2.0,0.89,1.43,2.37,0.75,1.16,1.67,1.06,2.24,0.67,1.35,1.81,0.86,2.6,1.12,1.55,0.78,2.08,1.05,1.4,2.78,1.22,1.92,2.92],
  [0.62,0.85,1.14,1.45,0.74,1.7,1.0,1.96,0.67,1.31,0.87,1.6,2.28,1.08,1.4,1.83,0.64,2.12,0.94,1.52,2.5,0.8,1.23,1.77,1.12,2.38,0.71,1.43,1.92,0.91,2.76,1.18,1.64,0.83,2.2,1.11,1.48,2.9,1.28,2.04],
  [0.66,0.9,1.2,1.52,0.78,1.78,1.05,2.05,0.71,1.38,0.92,1.68,2.38,1.14,1.47,1.92,0.68,2.22,0.99,1.6,2.45,0.84,1.3,1.86,1.18,2.3,0.75,1.5,2.0,0.96,2.5,1.24,1.72,0.87,2.15,1.17,1.56,1.95,1.35,2.1],
  [0.68,0.94,1.26,1.6,0.82,1.87,1.1,2.16,0.74,1.45,0.97,1.77,2.52,1.2,1.55,2.02,0.71,2.34,1.04,1.68,2.75,0.88,1.36,1.96,1.24,2.62,0.79,1.58,2.1,1.0,3.05,1.3,1.81,0.91,2.44,1.22,1.64,2.92,1.42,2.26],
  [0.67,0.92,1.23,1.56,0.8,1.82,1.07,2.1,0.72,1.41,0.94,1.72,2.45,1.17,1.5,1.96,0.69,2.28,1.01,1.63,2.68,0.86,1.33,1.9,1.21,2.55,0.77,1.54,2.04,0.98,2.85,1.27,1.76,0.89,2.37,1.19,1.6,2.72,1.38,2.2],
  [0.74,1.01,1.34,1.7,0.87,1.98,1.17,2.28,0.79,1.54,1.03,1.88,2.62,1.28,1.64,2.14,0.76,2.46,1.1,1.78,2.78,0.94,1.45,2.07,1.32,2.55,0.84,1.68,2.22,1.07,2.86,1.38,1.92,0.97,2.52,1.3,1.74,2.7,1.5,2.36],
  [0.77,1.05,1.4,1.77,0.9,2.06,1.22,2.37,0.82,1.6,1.07,1.95,2.72,1.33,1.7,2.22,0.79,2.55,1.14,1.85,2.88,0.98,1.5,2.15,1.37,2.64,0.87,1.75,2.3,1.11,2.95,1.43,2.0,1.0,2.6,1.35,1.81,2.8,1.56,2.45],
  [0.84,1.15,1.54,1.95,0.99,2.27,1.34,2.62,0.9,1.76,1.18,2.15,3.05,1.47,1.88,2.45,0.87,2.82,1.26,2.04,3.25,1.08,1.66,2.37,1.51,2.95,0.96,1.93,2.54,1.22,3.4,1.58,2.2,1.1,2.88,1.49,2.0,3.15,1.72,2.7],
  [0.86,1.17,1.57,1.99,1.01,2.32,1.37,2.68,0.92,1.8,1.2,2.2,3.12,1.5,1.92,2.5,0.89,2.88,1.29,2.08,3.32,1.1,1.7,2.42,1.54,3.02,0.98,1.97,2.6,1.25,3.45,1.61,2.25,1.12,2.94,1.52,2.04,3.22,1.76,2.76],
];

const SIZE_TABLES = [
  [SMALL, SMALL_MORE, SMALL_EXTRA],
  [MEDIUM, MEDIUM_MORE, MEDIUM_EXTRA],
  [LARGE, LARGE_MORE, LARGE_EXTRA],
];
const FONT = '"Liberation Sans", Arial, sans-serif';

function buildPoints(tables: number[][][], s: number, half: number) {
  const out: { x: number; y: number }[] = [];
  tables.forEach((tbl, t) =>
    tbl.forEach((col, g) =>
      col.forEach((y, i) => {
        if (i % 2 !== half) return;
        const j = JITTER[(i + g * 5 + s * 17 + t * 23) % JITTER.length];
        out.push({ x: GROUP_X[g] + j * JITTER_WIDTH, y });
      })
    )
  );
  return out;
}

const panelBg = {
  id: "panelBg",
  beforeDraw(chart: any) {
    const { ctx, chartArea: a } = chart;
    ctx.save();
    ctx.fillStyle = "#EBEBEB";
    ctx.fillRect(a.left, a.top, a.right - a.left, a.bottom - a.top);
    ctx.restore();
  },
};

const sideLegend = {
  id: "sideLegend",
  afterDraw(chart: any) {
    const { ctx } = chart;
    ctx.save();
    ctx.textBaseline = "middle";
    ctx.textAlign = "left";
    ctx.fillStyle = "#000000";
    ctx.font = `17.6px ${FONT}`;
    ctx.fillText("Model size", 612, 169);
    SERIES.forEach((name, k) => {
      const top = 187.5 + k * 28.8;
      ctx.fillStyle = "#F2F2F2";
      ctx.fillRect(612.7, top, 27.3, 27.6);
      ctx.fillStyle = COLORS[k];
      ctx.beginPath();
      ctx.arc(626.4, top + 13.8, 3.6, 0, Math.PI * 2);
      ctx.fill();
      ctx.fillStyle = "#000000";
      ctx.font = `14.1px ${FONT}`;
      ctx.fillText(name, 650.5, top + 14.2);
    });
    ctx.restore();
  },
};

export default function App() {
  const ref = useRef<HTMLCanvasElement | null>(null);
  useEffect(() => {
    if (!ref.current) return;
    const datasets: any[] = [];
    [0, 1].forEach((half) =>
      SIZE_TABLES.forEach((tables, s) =>
        datasets.push({
          label: SERIES[s],
          data: buildPoints(tables, s, half),
          backgroundColor: COLORS[s],
          borderWidth: 0,
          pointRadius: 3.6,
          pointHoverRadius: 3.6,
        })
      )
    );
    const chart = new Chart(ref.current, {
      type: "scatter",
      data: { datasets },
      options: {
        animation: false,
        responsive: false,
        events: [],
        layout: { padding: { left: 0, right: 135, top: 9, bottom: 0 } },
        plugins: { legend: { display: false }, tooltip: { enabled: false } },
        scales: {
          x: {
            type: "linear",
            min: 0,
            max: 18037,
            afterBuildTicks: (s: any) => {
              s.ticks = X_TICKS.map((v) => ({ value: v }));
            },
            afterFit: (s: any) => {
              s.height = 57.7;
              s.paddingLeft = 0;
              s.paddingRight = 0;
            },
            ticks: {
              autoSkip: false,
              maxRotation: 0,
              padding: 1.6,
              color: "#4D4D4D",
              font: { family: FONT, size: 14.1 },
              callback: (v: any) => (X_LABELS.includes(Number(v)) ? String(v) : ""),
            },
            grid: {
              color: "#FFFFFF",
              lineWidth: (c: any) => (c.tick && c.tick.value % 5000 === 0 ? 2.1 : 1),
              tickLength: 4.7,
              tickWidth: 1.4,
              tickColor: (c: any) => (c.tick && X_LABELS.includes(c.tick.value) ? "#333333" : "rgba(0,0,0,0)"),
            },
            border: { display: false },
            title: {
              display: true,
              text: "Number of indexed models",
              color: "#000000",
              font: { family: FONT, size: 17.6 },
              padding: { top: 0, bottom: 10 },
            },
          },
          y: {
            type: "linear",
            min: -0.313,
            max: 6.826,
            afterBuildTicks: (s: any) => {
              s.ticks = Y_TICKS.map((v) => ({ value: v }));
            },
            afterFit: (s: any) => {
              s.width = 50;
              s.paddingTop = 0;
              s.paddingBottom = 0;
            },
            ticks: {
              autoSkip: false,
              padding: 4.5,
              color: "#4D4D4D",
              font: { family: FONT, size: 14.1 },
              callback: (v: any) => (Y_LABELS.includes(Number(v)) ? String(v) : ""),
            },
            grid: {
              color: "#FFFFFF",
              lineWidth: (c: any) => (c.tick && Y_LABELS.includes(c.tick.value) ? 2.1 : 1),
              tickLength: 4.7,
              tickWidth: 1.4,
              tickColor: (c: any) => (c.tick && Y_LABELS.includes(c.tick.value) ? "#333333" : "rgba(0,0,0,0)"),
            },
            border: { display: false },
            title: {
              display: true,
              text: "Response time (seconds)",
              color: "#000000",
              font: { family: FONT, size: 17.6 },
              padding: { top: 6.5, bottom: 0 },
            },
          },
        },
      },
      plugins: [panelBg, sideLegend],
    });
    return () => chart.destroy();
  }, []);
  return (
    <div style={{ position: "fixed", left: 0, top: 0, width: 720, height: 480, background: "#FFFFFF" }}>
      <canvas ref={ref} width={720} height={480} style={{ display: "block", width: 720, height: 480 }} />
    </div>
  );
}
